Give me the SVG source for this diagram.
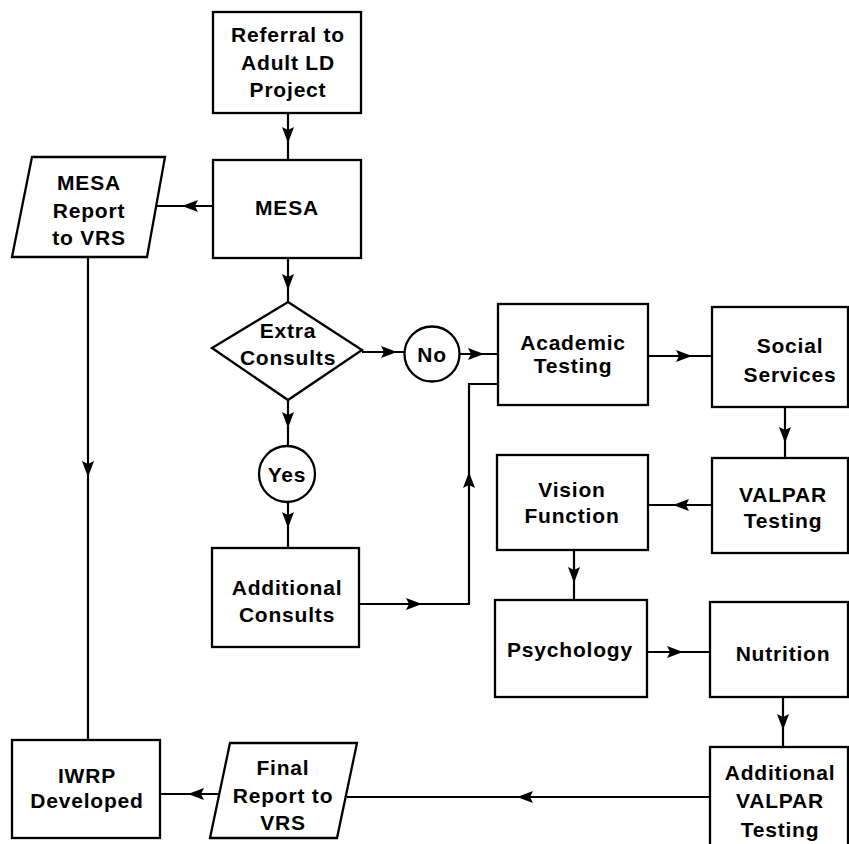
<svg xmlns="http://www.w3.org/2000/svg" xmlns:xlink="http://www.w3.org/1999/xlink" width="849" height="844" viewBox="0 0 849 844">
<style>
.box{fill:#fff;stroke:#000;stroke-width:2.3}
.ln{fill:none;stroke:#000;stroke-width:2.2}
.t{font-family:"Liberation Sans",Arial,sans-serif;font-weight:bold;font-size:21px;fill:#000;text-anchor:middle;letter-spacing:0.8px}
</style>
<defs>
<path id="ah" d="M0,0 L-16,-6 L-13,0 L-16,6 Z" fill="#000"/>
</defs>
<rect width="849" height="844" fill="#fff"/>
<g id="connectors">
<line class="ln" x1="288" y1="113" x2="288" y2="160"/>
<use xlink:href="#ah" transform="translate(288,143) rotate(90)"/>
<line class="ln" x1="213" y1="206" x2="156" y2="206"/>
<use xlink:href="#ah" transform="translate(182,206) rotate(180)"/>
<line class="ln" x1="88" y1="257" x2="88" y2="740"/>
<use xlink:href="#ah" transform="translate(88,477) rotate(90)"/>
<line class="ln" x1="288" y1="258" x2="288" y2="302"/>
<use xlink:href="#ah" transform="translate(288,290) rotate(90)"/>
<line class="ln" x1="362" y1="352" x2="405" y2="352"/>
<use xlink:href="#ah" transform="translate(397,352)"/>
<line class="ln" x1="460" y1="354" x2="498" y2="354"/>
<use xlink:href="#ah" transform="translate(484,354)"/>
<line class="ln" x1="288" y1="400" x2="288" y2="446"/>
<use xlink:href="#ah" transform="translate(288,428) rotate(90)"/>
<line class="ln" x1="288" y1="502" x2="288" y2="548"/>
<use xlink:href="#ah" transform="translate(288,528) rotate(90)"/>
<polyline class="ln" points="359,604 469,604 469,384 498,384"/>
<use xlink:href="#ah" transform="translate(422,604)"/>
<use xlink:href="#ah" transform="translate(469,472) rotate(-90)"/>
<line class="ln" x1="648" y1="356" x2="712" y2="356"/>
<use xlink:href="#ah" transform="translate(692,356)"/>
<line class="ln" x1="785" y1="407" x2="785" y2="458"/>
<use xlink:href="#ah" transform="translate(785,443) rotate(90)"/>
<line class="ln" x1="712" y1="505" x2="648" y2="505"/>
<use xlink:href="#ah" transform="translate(673,505) rotate(180)"/>
<line class="ln" x1="574" y1="550" x2="574" y2="600"/>
<use xlink:href="#ah" transform="translate(574,583) rotate(90)"/>
<line class="ln" x1="647" y1="652" x2="710" y2="652"/>
<use xlink:href="#ah" transform="translate(683,652)"/>
<line class="ln" x1="783" y1="697" x2="783" y2="747"/>
<use xlink:href="#ah" transform="translate(783,730) rotate(90)"/>
<line class="ln" x1="710" y1="797" x2="347" y2="797"/>
<use xlink:href="#ah" transform="translate(517,797) rotate(180)"/>
<line class="ln" x1="220" y1="794" x2="160" y2="794"/>
<use xlink:href="#ah" transform="translate(188,794) rotate(180)"/>
</g>
<g id="referral">
<rect class="box" x="213" y="12" width="148" height="101"/>
<text class="t" x="288" y="42">Referral to</text>
<text class="t" x="288" y="70">Adult LD</text>
<text class="t" x="288" y="97">Project</text>
</g>
<g id="mesa">
<rect class="box" x="213" y="160" width="148" height="98"/>
<text class="t" x="287" y="215">MESA</text>
</g>
<g id="mesa-report">
<polygon class="box" points="32,157 165,157 147,257 12,257"/>
<text class="t" x="89" y="190">MESA</text>
<text class="t" x="89" y="218">Report</text>
<text class="t" x="89" y="245">to VRS</text>
</g>
<g id="extra-consults">
<polygon class="box" points="288,302 362,350 288,400 212,348"/>
<text class="t" x="288" y="338">Extra</text>
<text class="t" x="288" y="365">Consults</text>
</g>
<g id="no">
<circle class="box" cx="432" cy="354" r="27.5"/>
<text class="t" x="432" y="362">No</text>
</g>
<g id="yes">
<circle class="box" cx="287" cy="474" r="28"/>
<text class="t" x="287" y="482">Yes</text>
</g>
<g id="additional-consults">
<rect class="box" x="212" y="548" width="147" height="99"/>
<text class="t" x="287" y="595">Additional</text>
<text class="t" x="287" y="622">Consults</text>
</g>
<g id="academic-testing">
<rect class="box" x="498" y="304" width="150" height="101"/>
<text class="t" x="573" y="350">Academic</text>
<text class="t" x="573" y="373">Testing</text>
</g>
<g id="social-services">
<rect class="box" x="712" y="307" width="136" height="100"/>
<text class="t" x="790" y="353">Social</text>
<text class="t" x="790" y="382">Services</text>
</g>
<g id="valpar-testing">
<rect class="box" x="712" y="458" width="136" height="95"/>
<text class="t" x="783" y="502">VALPAR</text>
<text class="t" x="783" y="528">Testing</text>
</g>
<g id="vision-function">
<rect class="box" x="497" y="455" width="151" height="95"/>
<text class="t" x="572" y="497">Vision</text>
<text class="t" x="572" y="523">Function</text>
</g>
<g id="psychology">
<rect class="box" x="495" y="600" width="152" height="97"/>
<text class="t" x="570" y="657">Psychology</text>
</g>
<g id="nutrition">
<rect class="box" x="710" y="602" width="138" height="95"/>
<text class="t" x="783" y="661">Nutrition</text>
</g>
<g id="additional-valpar">
<rect class="box" x="710" y="747" width="138" height="110"/>
<text class="t" x="780" y="780">Additional</text>
<text class="t" x="780" y="808">VALPAR</text>
<text class="t" x="780" y="837">Testing</text>
</g>
<g id="final-report">
<polygon class="box" points="230,743 357,743 337,838 210,838"/>
<text class="t" x="283" y="775">Final</text>
<text class="t" x="283" y="803">Report to</text>
<text class="t" x="283" y="830">VRS</text>
</g>
<g id="iwrp">
<rect class="box" x="12" y="740" width="148" height="98"/>
<text class="t" x="87" y="783">IWRP</text>
<text class="t" x="87" y="808">Developed</text>
</g>
</svg>
